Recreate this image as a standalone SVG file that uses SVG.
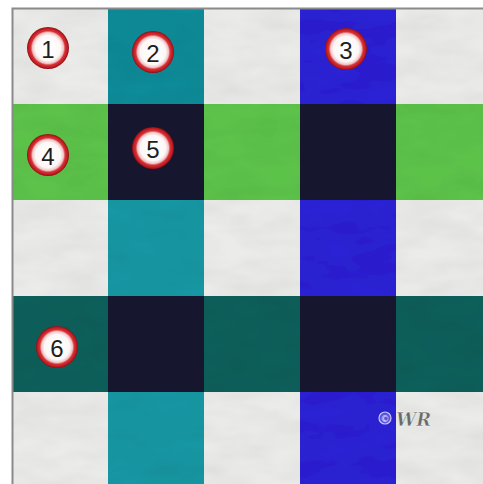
<svg xmlns="http://www.w3.org/2000/svg" width="483" height="484" viewBox="0 0 483 484">
<defs>
<radialGradient id="badge" cx="0.5" cy="0.5" r="0.5">
<stop offset="0" stop-color="#ffffff"/>
<stop offset="0.6" stop-color="#fdf8f8"/>
<stop offset="0.74" stop-color="#f1c4c4"/>
<stop offset="0.82" stop-color="#d6343a"/>
<stop offset="0.93" stop-color="#c01a20"/>
<stop offset="1" stop-color="#8a0f12"/>
</radialGradient>
<filter id="swirl" x="0" y="0" width="100%" height="100%">
<feTurbulence type="fractalNoise" baseFrequency="0.02 0.05" numOctaves="3" seed="7" result="n"/>
<feColorMatrix in="n" type="matrix" values="0 0 0 0 0  0 0 0 0 0  0 0 0 0 0  0 0 0 0.16 -0.04" result="a"/>
<feComposite in="a" in2="SourceGraphic" operator="atop"/>
</filter>
</defs>
<style>
.lt{fill:#ebebe9}
.tl{fill:#0f8b98}
.tl2{fill:#1597a3}
.bl{fill:#2b20d4}
.gr{fill:#5cc34a}
.nv{fill:#16162f}
.dt{fill:#0c5f5b}
.num{font-family:"Liberation Sans",Arial,sans-serif;font-size:24px;fill:#1e1e1e;text-anchor:middle;dominant-baseline:central}
</style>
<rect width="483" height="484" fill="#ffffff"/>
<g id="quilt" filter="url(#swirl)">
<rect class="lt" x="12" y="8" width="96" height="96"/>
<rect class="tl" x="108" y="8" width="96" height="96"/>
<rect class="lt" x="204" y="8" width="96" height="96"/>
<rect class="bl" x="300" y="8" width="96" height="96"/>
<rect class="lt" x="396" y="8" width="96" height="96"/>
<rect class="gr" x="12" y="104" width="96" height="96"/>
<rect class="nv" x="108" y="104" width="96" height="96"/>
<rect class="gr" x="204" y="104" width="96" height="96"/>
<rect class="nv" x="300" y="104" width="96" height="96"/>
<rect class="gr" x="396" y="104" width="96" height="96"/>
<rect class="lt" x="12" y="200" width="96" height="96"/>
<rect class="tl2" x="108" y="200" width="96" height="96"/>
<rect class="lt" x="204" y="200" width="96" height="96"/>
<rect class="bl" x="300" y="200" width="96" height="96"/>
<rect class="lt" x="396" y="200" width="96" height="96"/>
<rect class="dt" x="12" y="296" width="96" height="96"/>
<rect class="nv" x="108" y="296" width="96" height="96"/>
<rect class="dt" x="204" y="296" width="96" height="96"/>
<rect class="nv" x="300" y="296" width="96" height="96"/>
<rect class="dt" x="396" y="296" width="96" height="96"/>
<rect class="lt" x="12" y="392" width="96" height="96"/>
<rect class="tl2" x="108" y="392" width="96" height="96"/>
<rect class="lt" x="204" y="392" width="96" height="96"/>
<rect class="bl" x="300" y="392" width="96" height="96"/>
<rect class="lt" x="396" y="392" width="96" height="96"/>
</g>
<path d="M12.5 484 V8.5 H483" fill="none" stroke="#8a8a8a" stroke-width="2"/>
<g id="badge1"><circle cx="48" cy="48" r="21" fill="url(#badge)"/><text class="num" x="48" y="49">1</text></g>
<g id="badge2"><circle cx="153" cy="52" r="21" fill="url(#badge)"/><text class="num" x="153" y="53">2</text></g>
<g id="badge3"><circle cx="346" cy="49" r="21" fill="url(#badge)"/><text class="num" x="346" y="50">3</text></g>
<g id="badge4"><circle cx="48" cy="155" r="21" fill="url(#badge)"/><text class="num" x="48" y="156">4</text></g>
<g id="badge5"><circle cx="153" cy="148" r="21" fill="url(#badge)"/><text class="num" x="153" y="149">5</text></g>
<g id="badge6"><circle cx="57" cy="347" r="21" fill="url(#badge)"/><text class="num" x="57" y="348">6</text></g>
<g id="watermark">
<circle cx="385" cy="418" r="6" fill="#5a55e0" stroke="#c8c8f5" stroke-width="1.2"/>
<text x="385" y="419" font-family="'DejaVu Sans',sans-serif" font-size="9" fill="#e8e8ff" text-anchor="middle" dominant-baseline="central">©</text>
<text x="396" y="426" font-family="'DejaVu Serif',serif" font-style="italic" font-weight="bold" font-size="18" fill="#6a6a6a" stroke="#ffffff" stroke-width="0.4">WR</text>
</g>
</svg>
